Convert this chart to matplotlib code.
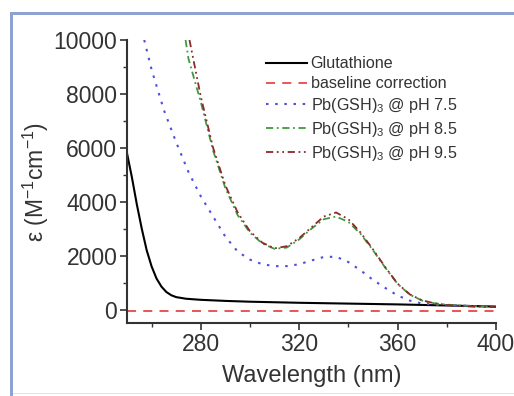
import matplotlib
matplotlib.use('Agg')
import matplotlib.pyplot as plt
from matplotlib.patches import Rectangle
from matplotlib.ticker import MultipleLocator

plt.rcParams['font.family'] = ['Liberation Sans', 'DejaVu Sans']
plt.rcParams['mathtext.fontset'] = 'custom'
plt.rcParams['mathtext.rm'] = 'Liberation Sans'
plt.rcParams['mathtext.it'] = 'Liberation Sans:italic'

# glutathione alone
gsh_wl = [250, 252, 254, 256, 258, 260, 262, 264, 266, 268, 270, 274, 280, 290, 300, 320, 340, 360, 380, 400]
gsh_eps = [5800, 4900, 3900, 3000, 2200, 1600, 1150, 850, 650, 530, 460, 400, 360, 320, 290, 250, 220, 190, 150, 110]

# baseline
base_wl = [250, 400]
base_eps = [-50, -50]

# Pb(GSH)3 at pH 7.5
ph75_wl = [257, 260, 265, 270, 275, 280, 285, 290, 295, 300, 305, 310, 315, 320, 325, 330, 335, 340,
           345, 350, 355, 360, 365, 370, 375, 380, 390, 400]
ph75_eps = [10000, 8900, 7400, 6200, 5100, 4200, 3450, 2700, 2150, 1850, 1680, 1610, 1610, 1680, 1820,
            1950, 1960, 1760, 1450, 1100, 800, 520, 330, 220, 180, 160, 130, 110]

# Pb(GSH)3 at pH 8.5
ph85_wl = [273.8, 275, 280, 285, 290, 295, 300, 305, 310, 315, 320, 325, 330, 335, 340, 345, 350, 355,
           360, 365, 370, 375, 380, 390, 400]
ph85_eps = [10000, 9300, 7700, 5900, 4500, 3500, 2850, 2450, 2250, 2300, 2600, 3000, 3350, 3450, 3250,
            2800, 2200, 1550, 950, 550, 330, 230, 180, 130, 100]

# Pb(GSH)3 at pH 9.5
ph95_wl = [275.4, 280, 285, 290, 295, 300, 305, 310, 315, 320, 325, 330, 335, 340, 345, 350, 355, 360,
           365, 370, 375, 380, 385, 390, 395, 400]
ph95_eps = [10000, 7900, 6000, 4600, 3600, 2900, 2480, 2270, 2350, 2650, 3050, 3450, 3600, 3350, 2850,
            2230, 1570, 960, 560, 340, 230, 170, 130, 110, 100, 90]

fig = plt.figure(figsize=(5.14, 3.96), dpi=100)

# blue frame around the panel
frame_col = '#8ea3d2'
fig.add_artist(Rectangle((10 / 514, (396 - 15) / 396), 1, 3 / 396, transform=fig.transFigure,
                         facecolor=frame_col, edgecolor='none'))
fig.add_artist(Rectangle((10 / 514, 0), 3 / 514, (396 - 12) / 396, transform=fig.transFigure,
                         facecolor=frame_col, edgecolor='none'))
fig.add_artist(Rectangle((13 / 514, 2 / 396), 1, 1.5 / 396, transform=fig.transFigure,
                         facecolor='#dde3ee', edgecolor='none'))

ax = fig.add_axes([127 / 514, (396 - 323) / 396, (496 - 127) / 514, (323 - 40) / 396])
ax.patch.set_alpha(0)

ax.plot(gsh_wl, gsh_eps, color='black', lw=1.5, ls='-', label='Glutathione')
ax.plot(base_wl, base_eps, color='#e84848', lw=1.3, ls=(0, (5, 4)), label='baseline correction')
ax.plot(ph75_wl, ph75_eps, color='#4f4fd8', lw=1.5, ls=(0, (1.2, 3.2)), label=r'Pb(GSH)$_3$ @ pH 7.5')
ax.plot(ph85_wl, ph85_eps, color='#3f9a3f', lw=1.3, ls=(0, (4, 2, 1, 2)), label=r'Pb(GSH)$_3$ @ pH 8.5')
ax.plot(ph95_wl, ph95_eps, color='#8b2a2a', lw=1.3, ls=(0, (4, 2, 1, 2, 1, 2)), label=r'Pb(GSH)$_3$ @ pH 9.5')

ax.set_xlim(250, 400)
ax.set_ylim(-500, 10000)
ax.set_xticks([280, 320, 360, 400])
ax.xaxis.set_minor_locator(MultipleLocator(20))
ax.yaxis.set_major_locator(MultipleLocator(2000))
ax.yaxis.set_minor_locator(MultipleLocator(1000))

ax.spines['top'].set_visible(False)
ax.spines['right'].set_visible(False)
for s in ['left', 'bottom']:
    ax.spines[s].set_linewidth(1.5)
    ax.spines[s].set_color('#333333')
ax.tick_params(which='major', direction='out', length=5, width=1.2, labelsize=16.5, colors='#333333', pad=2)
ax.tick_params(which='minor', direction='out', length=3, width=1.0, colors='#333333')

ax.set_xlabel('Wavelength (nm)', fontsize=17, color='#333333', labelpad=7)
ax.set_ylabel(r'$\mathrm{\varepsilon}$ (M$^{-1}$cm$^{-1}$)', fontsize=16.5, color='#333333', labelpad=2)

leg = ax.legend(loc='upper left', bbox_to_anchor=(0.36, 0.965), frameon=False, fontsize=11.6,
                handlelength=2.5, handletextpad=0.25, labelspacing=0.3, borderaxespad=0)
for t in leg.get_texts():
    t.set_color('#333333')

fig.savefig('out.png', dpi=100)
